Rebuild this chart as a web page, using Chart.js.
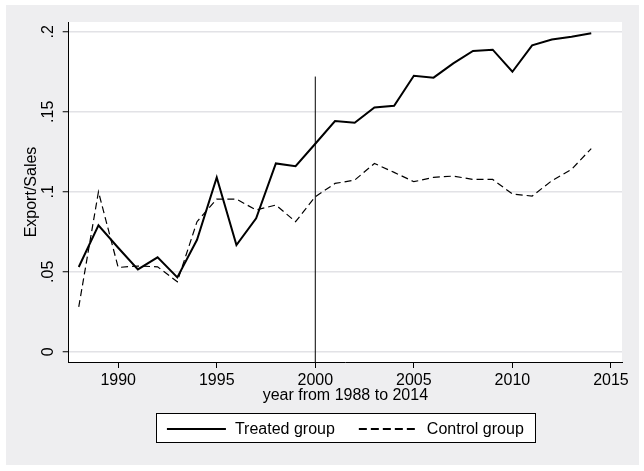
<!DOCTYPE html>
<html>
<head>
<meta charset="utf-8">
<script src="https://cdn.jsdelivr.net/npm/chart.js@4/dist/chart.umd.min.js"></script>
<style>
  html, body { margin: 0; padding: 0; background: #ffffff; }
  #wrap { width: 644px; height: 471px; position: relative; }
</style>
</head>
<body>
<div id="wrap"><canvas id="c" width="644" height="471"></canvas></div>
<script>
// ---- data ----
const years = [1988,1989,1990,1991,1992,1993,1994,1995,1996,1997,1998,1999,2000,2001,2002,2003,2004,2005,2006,2007,2008,2009,2010,2011,2012,2013,2014];
const treated = [0.053,0.079,0.065,0.0515,0.059,0.0465,0.070,0.109,0.0667,0.0834,0.1177,0.116,0.130,0.1442,0.1431,0.1527,0.1538,0.1725,0.1713,0.1802,0.188,0.1888,0.175,0.1915,0.1952,0.1969,0.199];
const control = [0.028,0.100,0.0527,0.0536,0.0531,0.0438,0.0813,0.0954,0.0954,0.0886,0.0917,0.0813,0.0969,0.1052,0.1073,0.1177,0.1121,0.1063,0.109,0.1098,0.1077,0.1077,0.0986,0.0973,0.1069,0.114,0.127];
const seriesLabels = ['Treated group', 'Control group'];
const xTicks = [1990, 1995, 2000, 2005, 2010, 2015];
const yTicks = [0, 0.05, 0.1, 0.15, 0.2];
const yTickLabels = ['0', '.05', '.1', '.15', '.2'];
const policyYear = [2000, 2000];
const policyLineY = [-0.0064, 0.172];
const xTitle = 'year from 1988 to 2014';
const yTitle = 'Export/Sales';

const FONT = '"Liberation Sans", Arial, sans-serif';
const BG = '#eeeef0';
const GRID = '#e2e2e6';

const toPts = (xs, ys) => xs.map((x, i) => ({x: x, y: ys[i]}));

const bgPlugin = {
  id: 'bg',
  beforeDraw(chart) {
    const ctx = chart.ctx, a = chart.chartArea;
    ctx.save();
    ctx.fillStyle = '#ffffff';
    ctx.fillRect(0, 0, chart.width, chart.height);
    ctx.fillStyle = BG;
    ctx.fillRect(6, 5, 633, 460);
    ctx.fillStyle = '#ffffff';
    ctx.fillRect(a.left, a.top, a.right - a.left, a.bottom - a.top);
    ctx.restore();
  }
};

const legendPlugin = {
  id: 'boxLegend',
  afterDraw(chart) {
    const ctx = chart.ctx, a = chart.chartArea;
    ctx.save();
    ctx.font = '16px ' + FONT;
    const sample = 59, gap = 9, itemGap = 24, pad = 11;
    const items = chart.data.datasets.filter(d => d.inLegend);
    const widths = items.map(d => ctx.measureText(d.label).width);
    let W = 0;
    widths.forEach((w, i) => { W += sample + gap + w + (i ? itemGap : 0); });
    const cx = (a.left + a.right) / 2;
    const boxL = cx - W / 2 - pad, boxR = cx + W / 2 + pad;
    const boxT = 413.5, boxB = 442.5;
    ctx.fillStyle = '#ffffff';
    ctx.fillRect(boxL, boxT, boxR - boxL, boxB - boxT);
    ctx.strokeStyle = '#000000';
    ctx.lineWidth = 1;
    ctx.strokeRect(Math.round(boxL) + 0.5, boxT, Math.round(boxR - boxL), boxB - boxT);
    let x = cx - W / 2;
    const y = 429;
    items.forEach((d, i) => {
      ctx.beginPath();
      ctx.setLineDash(d.legendDash || []);
      ctx.lineWidth = 2;
      ctx.moveTo(x, y);
      ctx.lineTo(x + sample, y);
      ctx.stroke();
      ctx.setLineDash([]);
      ctx.fillStyle = '#000000';
      ctx.textBaseline = 'middle';
      ctx.textAlign = 'left';
      ctx.fillText(d.label, x + sample + gap, y + 0.5);
      x += sample + gap + widths[i] + itemGap;
    });
    ctx.restore();
  }
};

new Chart(document.getElementById('c'), {
  type: 'line',
  data: {
    datasets: [
      {
        label: seriesLabels[0], inLegend: true, legendDash: [],
        data: toPts(years, treated),
        borderColor: '#000000', borderWidth: 2, pointRadius: 0, tension: 0, fill: false
      },
      {
        label: seriesLabels[1], inLegend: true, legendDash: [8, 4],
        data: toPts(years, control),
        borderColor: '#000000', borderWidth: 1.2, borderDash: [7, 4], pointRadius: 0, tension: 0, fill: false
      },
      {
        label: 'policy', inLegend: false,
        data: toPts(policyYear, policyLineY),
        borderColor: '#000000', borderWidth: 1, pointRadius: 0, fill: false
      }
    ]
  },
  options: {
    responsive: false,
    animation: false,
    devicePixelRatio: 1,
    layout: { padding: { left: 0, top: 22, right: 22, bottom: 66 } },
    plugins: { legend: { display: false }, tooltip: { enabled: false } },
    scales: {
      x: {
        type: 'linear',
        min: 1987.49, max: 2015.56,
        afterBuildTicks: s => { s.ticks = xTicks.map(v => ({value: v})); },
        afterFit: s => { s.height = 43; },
        border: { display: true, color: '#000000', width: 1 },
        grid: { drawOnChartArea: false, drawTicks: true, tickLength: 6, tickColor: '#000000', tickWidth: 1 },
        ticks: { color: '#000000', padding: 3, maxRotation: 0, minRotation: 0, autoSkip: false,
                 font: { family: FONT, size: 16 }, callback: v => String(v) },
        title: { display: true, text: xTitle, color: '#000000', padding: 0,
                 font: { family: FONT, size: 16 } }
      },
      y: {
        type: 'linear',
        min: -0.0064, max: 0.2061,
        afterBuildTicks: s => { s.ticks = yTicks.map(v => ({value: v})); },
        afterFit: s => { s.width = 68.7; },
        border: { display: true, color: '#000000', width: 1 },
        grid: { color: GRID, lineWidth: 1.5, drawTicks: true, tickLength: 6, tickColor: '#000000', tickWidth: 1 },
        ticks: { color: '#000000', padding: 3, minRotation: 90, maxRotation: 90, crossAlign: 'center',
                 font: { family: FONT, size: 16 },
                 callback: (v, i) => yTickLabels[yTicks.indexOf(v)] },
        title: { display: true, text: yTitle, color: '#000000', padding: { top: 22, bottom: 0 },
                 font: { family: FONT, size: 16 } }
      }
    }
  },
  plugins: [bgPlugin, legendPlugin]
});
</script>
</body>
</html>
